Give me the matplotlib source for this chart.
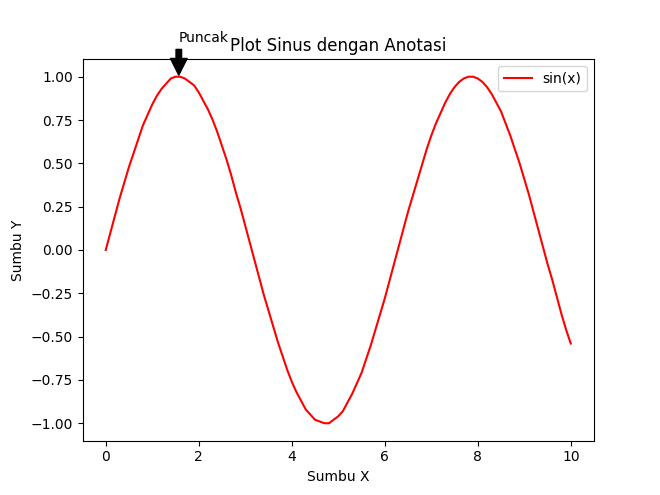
import numpy as np
import matplotlib.pyplot as plt

# values, step 0.1 from 0 to 10
x = np.round(np.arange(0, 10.001, 0.1), 1)
y = [0.00, 0.10, 0.20, 0.30, 0.39, 0.48, 0.56, 0.64, 0.72, 0.78,
     0.84, 0.89, 0.93, 0.96, 0.99, 1.00, 1.00, 0.99, 0.97, 0.95,
     0.91, 0.86, 0.81, 0.75, 0.68, 0.60, 0.52, 0.43, 0.33, 0.24,
     0.14, 0.04, -0.06, -0.16, -0.26, -0.35, -0.44, -0.53, -0.61, -0.69,
     -0.76, -0.82, -0.87, -0.92, -0.95, -0.98, -0.99, -1.00, -1.00, -0.98,
     -0.96, -0.93, -0.88, -0.83, -0.77, -0.71, -0.63, -0.55, -0.46, -0.37,
     -0.28, -0.18, -0.08, 0.02, 0.12, 0.22, 0.31, 0.40, 0.49, 0.58,
     0.66, 0.73, 0.79, 0.85, 0.90, 0.94, 0.97, 0.99, 1.00, 1.00,
     0.99, 0.97, 0.94, 0.90, 0.85, 0.80, 0.73, 0.66, 0.58, 0.50,
     0.41, 0.32, 0.22, 0.12, 0.02, -0.08, -0.17, -0.27, -0.37, -0.46,
     -0.54]

peak_x = np.pi / 2
peak_y = 1.0

fig, ax = plt.subplots(figsize=(6.6, 4.95), dpi=100)
ax.plot(x, y, color='red', label='sin(x)')
ax.annotate('Puncak', xy=(peak_x, peak_y), xytext=(peak_x, 1.2),
            arrowprops=dict(facecolor='black', shrink=0.05))
ax.set_title('Plot Sinus dengan Anotasi')
ax.set_xlabel('Sumbu X')
ax.set_ylabel('Sumbu Y')
ax.legend()
fig.savefig('out.png')
